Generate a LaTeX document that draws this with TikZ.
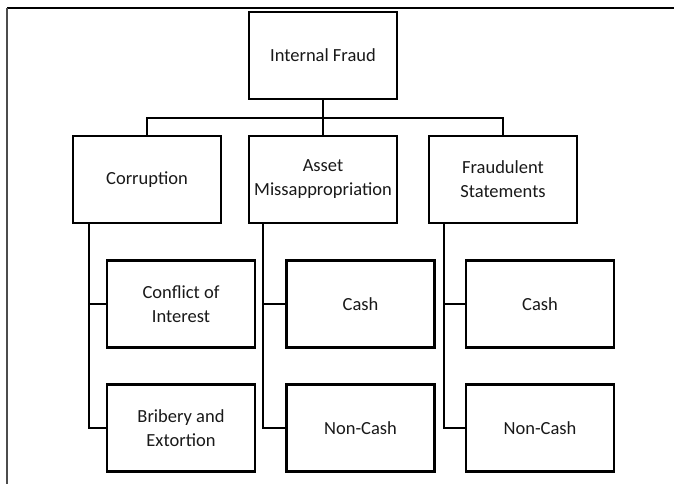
\documentclass[tikz,border=0pt]{standalone}
\usepackage{fontspec}
\setmainfont{Carlito}
\begin{document}
\begin{tikzpicture}[x=1pt,y=-1pt,
  box/.style={draw=black, line width=2.8pt, fill=white, minimum width=148pt, minimum height=87pt,
    inner sep=0pt, align=center, font=\fontsize{18.5}{24}\selectfont, text=black!90},
  link/.style={draw=black, line width=2.8pt},
  frametop/.style={draw=black, line width=2.2pt},
  frameleft/.style={draw=black!70, line width=1.5pt}]
\useasboundingbox (0,0) rectangle (674,484);
% frame
\coordinate (fTL) at (7,8);
\coordinate (fTR) at (674,8);
\coordinate (fBL) at (7,484);
\draw[frametop] (fTL) -- (fTR);
\draw[frameleft] (fTL) -- (fBL);
% nodes
\node[box] (root) at (323,55.5) {Internal Fraud};
\node[box] (corr) at (147,179.5) {Corruption};
\node[box] (asset) at (323,179.5) {Asset\\Missappropriation};
\node[box] (fraud) at (503,179.5) {Fraudulent\\Statements};
\node[box] (coi) at (181,304) {Conflict of\\Interest};
\node[box] (bri) at (181,428) {Bribery and\\Extortion};
\node[box] (cash1) at (360.5,304) {Cash};
\node[box] (ncash1) at (360.5,428) {Non-Cash};
\node[box] (cash2) at (540,304) {Cash};
\node[box] (ncash2) at (540,428) {Non-Cash};
% level 1 -> level 2
\coordinate (bus) at (323,118);
\draw[link] (root.south) -- (asset.north);
\draw[link] (bus) -| (corr.north);
\draw[link] (bus) -| (fraud.north);
% level 2 -> level 3
\draw[link] ([xshift=-58pt]corr.south) |- (coi.west);
\draw[link] ([xshift=-58pt]corr.south) |- (bri.west);
\draw[link] ([xshift=-60pt]asset.south) |- (cash1.west);
\draw[link] ([xshift=-60pt]asset.south) |- (ncash1.west);
\draw[link] ([xshift=-59pt]fraud.south) |- (cash2.west);
\draw[link] ([xshift=-59pt]fraud.south) |- (ncash2.west);
\end{tikzpicture}
\end{document}
